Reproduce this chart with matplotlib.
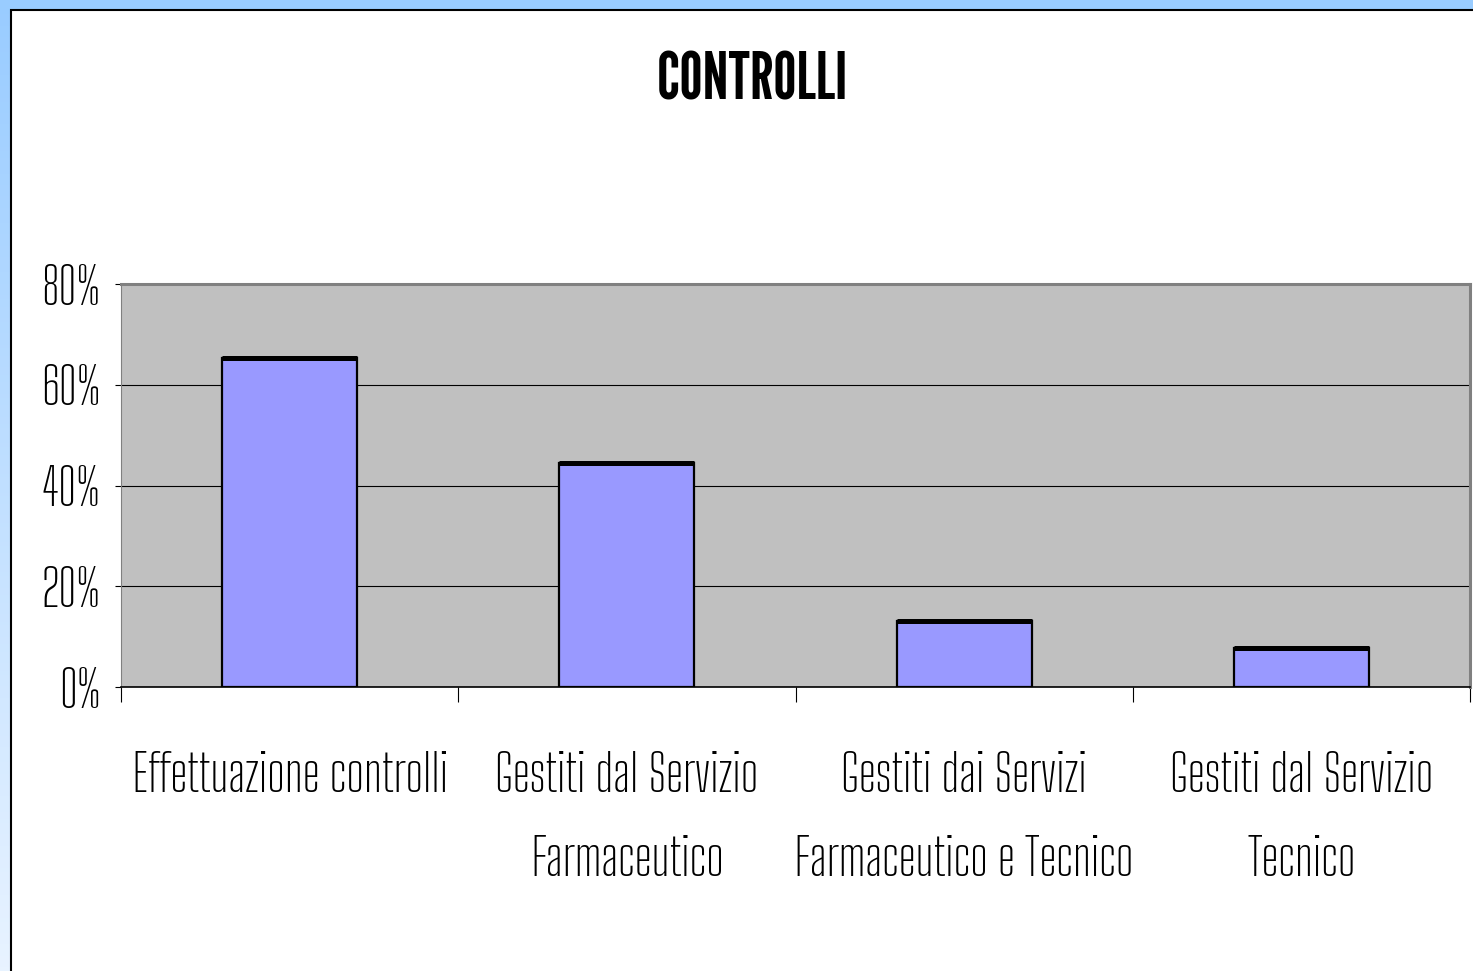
import numpy as np
import matplotlib.pyplot as plt
from matplotlib.patches import Rectangle
from matplotlib.colors import LinearSegmentedColormap
from matplotlib.textpath import TextPath
from matplotlib.font_manager import FontProperties

categories = ["Effettuazione controlli",
              "Gestiti dal Servizio\nFarmaceutico",
              "Gestiti dai Servizi\nFarmaceutico e Tecnico",
              "Gestiti dal Servizio\nTecnico"]
values = [65.4, 44.4, 13.2, 7.7]
yticks = [0, 20, 40, 60, 80]
ytick_labels = ["0%", "20%", "40%", "60%", "80%"]
title = "CONTROLLI"

label_font = ["Big Shoulders Text", "DejaVu Sans"]
title_font = ["League Gothic", "DejaVu Sans"]


def size_for_cap(family, cap_px):
    # font size (pt) giving the wanted cap height in pixels at 100 dpi
    h = TextPath((0, 0), "H", size=100, prop=FontProperties(family=family)).get_extents().height
    return cap_px / (h / 100) * 0.72


plt.rcParams['font.family'] = label_font
fs_lab = size_for_cap(label_font[0], 41)
fs_title = size_for_cap(title_font[0], 48)

W, H = 1473, 971
fig = plt.figure(figsize=(W / 100, H / 100), dpi=100)

# outer frame: blue band with gradient, white sheet
bg = fig.add_axes([0, 0, 1, 1], zorder=-10)
cmap = LinearSegmentedColormap.from_list("frame", ["#99CCFF", "#E8F3FF"])
bg.imshow(np.linspace(0, 1, 256)[:, None], aspect='auto', cmap=cmap,
          extent=[0, 1, 0, 1])
bg.add_patch(Rectangle((10.5 / W, -0.01), 1.01, 1 - 10.5 / H + 0.01,
                       facecolor='white', edgecolor='black', lw=1.5))
bg.set_xlim(0, 1)
bg.set_ylim(0, 1)
bg.set_axis_off()

ax = fig.add_axes([121 / W, 1 - 687 / H, 1349 / W, 403 / H])
ax.set_facecolor('#C0C0C0')
x = np.arange(len(categories))
ax.bar(x, values, width=0.4, color='#9999FF', edgecolor='black', lw=1.6, zorder=3)
ax.hlines(values, x - 0.2, x + 0.2, color='black', lw=3.6, zorder=4)

ax.set_xlim(-0.5, len(categories) - 0.5)
ax.set_ylim(0, 80)
ax.set_yticks(yticks)
ax.set_yticklabels(ytick_labels, fontsize=fs_lab)
ax.yaxis.grid(True, color='black', lw=0.8, zorder=1)
ax.set_axisbelow(True)
ax.tick_params(axis='y', length=4.5, width=0.8, pad=10)

ax.set_xticks(x)
ax.set_xticklabels(categories, fontsize=fs_lab, linespacing=1.8, va='top')
ax.tick_params(axis='x', length=0, pad=46)
ax.set_xticks(np.arange(len(categories) + 1) - 0.5, minor=True)
ax.tick_params(axis='x', which='minor', length=11, width=0.8)

for side in ['top', 'right']:
    ax.spines[side].set_color('#808080')
    ax.spines[side].set_linewidth(2.2)
ax.spines['left'].set_color('#808080')
ax.spines['left'].set_linewidth(0.8)
ax.spines['bottom'].set_color('black')
ax.spines['bottom'].set_linewidth(1.2)

fig.text(752 / W, 1 - 82 / H, title, fontsize=fs_title, family=title_font,
         ha='center', va='center')

fig.savefig("out.png", dpi=100)
